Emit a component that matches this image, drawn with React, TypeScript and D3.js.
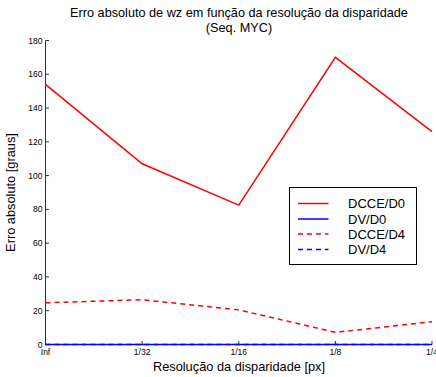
import React from "react";
import * as d3 from "d3";

// Disparity resolution categories (x axis)
const categories = ["Inf", "1/32", "1/16", "1/8", "1/4"];

// Absolute error in wz [degrees] per series
const dcceD0 = [154, 107, 82.5, 170, 126];
const dvD0 = [0, 0, 0, 0, 0];
const dcceD4 = [24.7, 26.5, 20.5, 7.2, 13.5];
const dvD4 = [0, 0, 0, 0, 0];

const yTicks = [0, 20, 40, 60, 80, 100, 120, 140, 160, 180];

const seriesNames = ["DCCE/D0", "DV/D0", "DCCE/D4", "DV/D4"];
const seriesColors = ["#ff0000", "#0000ff", "#ff0000", "#0000ff"];
const seriesDashed = [false, false, true, true];
const seriesValues = [dcceD0, dvD0, dcceD4, dvD4];

const W = 436;
const H = 377;
const left = 45.5;
const right = 432;
const top = 40.5;
const bottom = 344.5;
const font = "Liberation Sans, Arial, Helvetica, sans-serif";

export default function App() {
  const x = d3.scalePoint<string>().domain(categories).range([left, right]);
  const y = d3.scaleLinear().domain([0, 180]).range([bottom, top]);
  const line = d3
    .line<number>()
    .x((_, i) => x(categories[i]) as number)
    .y((d) => y(d));

  const lx = 289.5;
  const ly = 187.5;
  const lw = 127;
  const lh = 77;
  const rowY = [203.5, 219, 234, 249.5];

  return (
    <svg
      width={W}
      height={H}
      style={{ position: "absolute", left: 0, top: 0, background: "#fff" }}
      fontFamily={font}
    >
      <rect width={W} height={H} fill="#fff" />
      {/* title */}
      <text x={239} y={17} fontSize={12.7} textAnchor="middle" fill="#000">
        Erro absoluto de wz em função da resolução da disparidade
      </text>
      <text x={239} y={31.5} fontSize={12.7} textAnchor="middle" fill="#000">
        (Seq. MYC)
      </text>

      {/* y axis */}
      <line x1={left} x2={left} y1={top} y2={bottom} stroke="#333" strokeWidth={1} />
      {yTicks.map((t) => (
        <g key={t}>
          <line x1={left} x2={left + 3.5} y1={y(t)} y2={y(t)} stroke="#333" />
          <text x={left - 3} y={y(t) + 3} fontSize={8.5} textAnchor="end" fill="#000">
            {t}
          </text>
        </g>
      ))}
      {/* x axis */}
      <line x1={left} x2={right} y1={bottom} y2={bottom} stroke="#333" />
      {categories.map((c) => (
        <g key={c}>
          <line x1={x(c)} x2={x(c)} y1={bottom} y2={bottom - 3.5} stroke="#333" />
          <text x={x(c)} y={bottom + 10} fontSize={8.5} textAnchor="middle" fill="#000">
            {c}
          </text>
        </g>
      ))}
      <text x={239} y={370.5} fontSize={12.8} textAnchor="middle" fill="#000">
        Resolução da disparidade [px]
      </text>
      <text
        transform={`translate(15,${(top + bottom) / 2}) rotate(-90)`}
        fontSize={12.8}
        textAnchor="middle"
        fill="#000"
      >
        Erro absoluto [graus]
      </text>

      {/* series */}
      {seriesValues.map((vals, i) => (
        <path
          key={seriesNames[i]}
          d={line(vals) || ""}
          fill="none"
          stroke={seriesColors[i]}
          strokeWidth={1.5}
          strokeDasharray={seriesDashed[i] ? "5,4" : undefined}
        />
      ))}

      {/* legend */}
      <rect x={lx} y={ly} width={lw} height={lh} fill="#fff" stroke="#000" strokeWidth={1} />
      {seriesNames.map((n, i) => (
        <g key={n}>
          <line
            x1={298}
            x2={328.5}
            y1={rowY[i]}
            y2={rowY[i]}
            stroke={seriesColors[i]}
            strokeWidth={1.5}
            strokeDasharray={seriesDashed[i] ? "5,4" : undefined}
          />
          <text x={348} y={rowY[i] + 4.5} fontSize={13} fill="#000">
            {n}
          </text>
        </g>
      ))}
    </svg>
  );
}
